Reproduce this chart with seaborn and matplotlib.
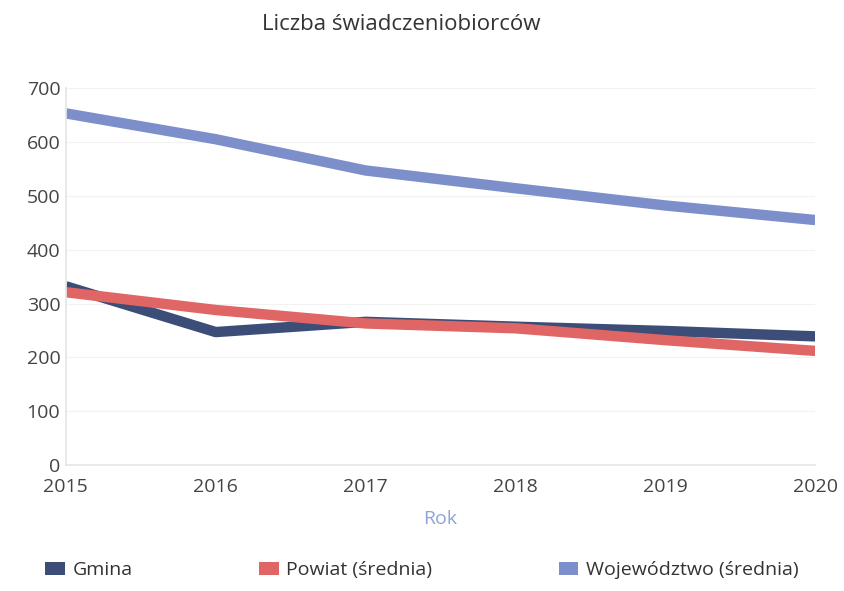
import matplotlib
matplotlib.use("Agg")
import matplotlib.pyplot as plt
import seaborn as sns
import pandas as pd
from matplotlib.patches import Patch

years = [2015, 2016, 2017, 2018, 2019, 2020]
gmina = [332, 247, 266, 257, 249, 239]
powiat = [321, 288, 263, 254, 232, 212]
wojewodztwo = [653, 605, 547, 514, 482, 455]
series_names = ["Gmina", "Powiat (średnia)", "Województwo (średnia)"]
colors = ["#3c4d78", "#e06666", "#7d8fca"]

df = pd.DataFrame({"Rok": years * 3,
                   "value": gmina + powiat + wojewodztwo,
                   "series": [series_names[0]] * 6 + [series_names[1]] * 6 + [series_names[2]] * 6})

sns.set_theme(style="white")
plt.rcParams['font.family'] = ['Open Sans', 'DejaVu Sans']

fig = plt.figure(figsize=(8.44, 5.91), dpi=100)
ax = fig.add_axes([0.078, 0.213, 0.888, 0.638])
sns.lineplot(data=df, x="Rok", y="value", hue="series", palette=colors,
             linewidth=7.5, ax=ax, legend=False, solid_capstyle="butt")

ax.set_xlim(2015, 2020)
ax.set_ylim(0, 700)
ax.set_yticks(range(0, 701, 100))
ax.set_xticks(years)
ax.tick_params(axis="both", labelsize=14, colors="#444444", length=0, pad=4)
ax.tick_params(axis="x", pad=9)
ax.yaxis.grid(True, color="#f2f2f2", linewidth=0.8)
for s in ["top", "right"]:
    ax.spines[s].set_visible(False)
ax.spines["left"].set_color("#e6e6e6")
ax.spines["bottom"].set_color("#e6e6e6")
ax.set_ylabel("")
ax.set_xlabel("Rok", color="#8fa3d6", fontsize=14, labelpad=10)

fig.text(0.475, 0.958, "Liczba świadczeniobiorców", ha="center", va="center",
         fontsize=16, color="#333333")

handles = [Patch(facecolor=c, edgecolor="none") for c in colors]
fig.legend(handles, series_names, loc="center", bbox_to_anchor=(0.5, 0.035), ncol=3,
           frameon=False, fontsize=14, handlelength=1.0, handleheight=0.6,
           columnspacing=6.5, handletextpad=0.4, labelcolor="#333333")

fig.savefig("out.png", dpi=100)
